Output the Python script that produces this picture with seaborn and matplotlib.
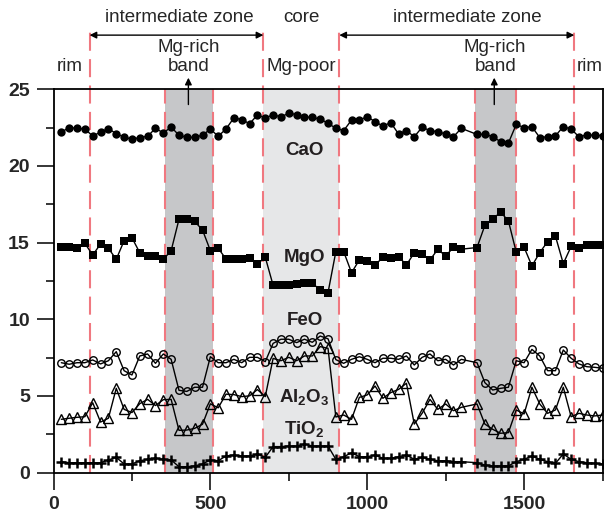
import matplotlib
matplotlib.use("Agg")
import matplotlib.pyplot as plt
from matplotlib.ticker import MultipleLocator
import seaborn as sns
import pandas as pd

# ---------------- data ----------------
distance = [25, 50, 75, 100, 125, 150, 175, 200, 225, 250, 275, 300, 325, 350,
            375, 400, 425, 450, 475, 500, 525, 550, 575, 600, 625, 650, 675, 700,
            725, 750, 775, 800, 825, 850, 875, 900, 925, 950, 975, 1000, 1025,
            1050, 1075, 1100, 1125, 1150, 1175, 1200, 1225, 1250, 1275, 1300,
            1350, 1375, 1400, 1425, 1450, 1475, 1500, 1525, 1550, 1575, 1600,
            1625, 1650, 1675, 1700, 1725, 1750]

cao = [22.2, 22.5, 22.45, 22.4, 21.95, 22.2, 22.43, 22.1, 21.88, 21.74, 21.85,
       21.93, 22.45, 22.15, 22.53, 22.0, 21.86, 21.86, 22.0, 22.4, 21.93, 22.41,
       23.13, 23.02, 22.75, 23.32, 23.13, 23.33, 23.2, 23.43, 23.35, 23.19,
       23.16, 23.05, 22.78, 22.45, 22.3, 22.99, 22.99, 23.21, 22.88, 22.6,
       22.82, 22.08, 22.3, 21.9, 22.52, 22.3, 22.23, 22.08, 21.9, 22.45,
       22.05, 22.07, 21.9, 21.58, 21.49, 22.7, 22.5, 22.55, 21.85, 21.9, 21.96,
       22.56, 22.4, 21.9, 22.02, 22.0, 21.98]

mgo = [14.73, 14.69, 14.63, 14.95, 14.19, 14.91, 14.63, 13.91, 15.12, 15.32,
       14.34, 14.13, 14.13, 13.91, 14.47, 16.52, 16.53, 16.38, 15.82, 14.48,
       14.63, 13.93, 13.95, 13.95, 13.97, 13.6, 14.05, 12.22, 12.25, 12.22,
       12.32, 12.37, 12.34, 11.93, 11.73, 14.41, 14.41, 13.04, 13.87, 13.82,
       13.54, 14.04, 13.98, 14.08, 13.54, 14.34, 14.26, 13.87, 14.56, 14.13,
       14.69, 14.57, 14.68, 16.12, 16.53, 16.99, 16.42, 14.38, 14.7, 13.48,
       14.35, 15.06, 15.42, 13.63, 14.75, 14.68, 14.82, 14.82, 14.82]

feo = [7.17, 7.07, 7.17, 7.17, 7.35, 7.09, 7.3, 7.89, 6.65, 6.37, 7.61, 7.74,
       7.13, 7.74, 7.39, 5.37, 5.3, 5.57, 5.57, 7.56, 7.17, 7.17, 7.39, 7.17,
       7.52, 7.52, 7.24, 8.43, 8.7, 8.7, 8.48, 8.7, 8.5, 8.91, 8.73, 7.37,
       7.13, 7.39, 7.56, 7.39, 7.17, 7.46, 7.46, 7.39, 7.61, 7.02, 7.52, 7.74,
       7.3, 7.39, 7.02, 7.39, 7.17, 5.87, 5.39, 5.5, 5.57, 7.3, 7.17, 8.04,
       7.61, 6.65, 6.65, 8.0, 7.46, 7.09, 6.91, 6.87, 6.81]

al2o3 = [3.48, 3.55, 3.61, 3.65, 4.56, 3.3, 3.55, 5.5, 4.13, 3.92, 4.5, 4.78,
         4.38, 4.76, 4.78, 2.76, 2.78, 2.89, 3.16, 4.49, 4.23, 5.12, 5.09, 4.96,
         5.01, 5.42, 4.96, 7.45, 7.3, 7.52, 7.3, 7.61, 7.61, 8.22, 8.11, 3.63,
         3.76, 3.48, 4.91, 5.07, 5.65, 4.85, 5.22, 5.43, 5.83, 3.17, 3.87, 4.78,
         4.13, 4.48, 4.04, 4.26, 4.48, 3.17, 2.83, 2.57, 2.61, 4.09, 3.83, 5.57,
         4.48, 3.87, 4.09, 5.57, 3.65, 3.87, 3.76, 3.7, 3.76]

tio2 = [0.72, 0.65, 0.65, 0.65, 0.65, 0.65, 0.83, 1.0, 0.57, 0.57, 0.78, 0.87,
        0.94, 0.87, 0.83, 0.39, 0.39, 0.44, 0.57, 0.83, 0.78, 1.09, 1.15, 1.09,
        1.09, 1.22, 1.0, 1.7, 1.7, 1.74, 1.74, 1.87, 1.74, 1.74, 1.74, 0.87,
        1.04, 1.3, 1.04, 1.04, 1.15, 0.94, 0.94, 1.04, 1.15, 0.87, 1.0, 0.87,
        0.78, 0.78, 0.72, 0.72, 0.65, 0.5, 0.44, 0.44, 0.44, 0.72, 0.87, 1.09,
        0.87, 0.72, 0.61, 1.22, 0.87, 0.72, 0.65, 0.61, 0.57]

oxide_names = ["CaO", "MgO", "FeO", "Al$_2$O$_3$", "TiO$_2$"]
label_y = [20.72, 13.75, 9.63, 4.63, 2.55]

boundaries = [115, 356, 510, 669, 911, 1343, 1474, 1660]
tall_boundaries = [115, 669, 911, 1660]
mg_rich_bands = [(356, 510), (1343, 1474)]
core_band = (669, 911)

x_ticks = [0, 500, 1000, 1500]
y_ticks = [0, 5, 10, 15, 20, 25]

# ---------------- style ----------------
sns.set_style("ticks")
plt.rcParams["font.family"] = ["Liberation Sans", "DejaVu Sans"]
plt.rcParams["mathtext.default"] = "regular"
plt.rcParams["lines.scale_dashes"] = False

fig = plt.figure(figsize=(6.05, 5.23), dpi=100)
ax = fig.add_axes([53.5 / 605, (523 - 472.7) / 523, 549 / 605, 383.5 / 523])

ax.set_xlim(0, 1750)
ax.set_ylim(0, 25)

dash_col = "#f07880"
ax.axvspan(*core_band, color="#e6e7e8", lw=0, zorder=0)
for a, b in mg_rich_bands:
    ax.axvspan(a, b, color="#c6c7c9", lw=0, zorder=0)
for b in boundaries:
    top = 1.152 if b in tall_boundaries else 1.0
    ax.axvline(b, ymin=0, ymax=top, color=dash_col, lw=1.5,
               dashes=(13, 6), clip_on=False, zorder=1)

series = {"CaO": cao, "MgO": mgo, "FeO": feo, "Al2O3": al2o3, "TiO2": tio2}
df = pd.DataFrame({"distance": distance, **series})

styles = {
    "CaO": dict(marker="o", markersize=6, markerfacecolor="black", markeredgewidth=0),
    "MgO": dict(marker="s", markersize=5.6, markerfacecolor="black", markeredgewidth=0),
    "FeO": dict(marker="o", markersize=5.4, markerfacecolor="none", markeredgewidth=1.0),
    "Al2O3": dict(marker="^", markersize=6.5, markerfacecolor="none", markeredgewidth=1.0),
    "TiO2": dict(marker="+", markersize=7, markeredgewidth=1.8),
}
for name, st in styles.items():
    sns.lineplot(data=df, x="distance", y=name, ax=ax, color="black",
                 linewidth=1.0, markeredgecolor="black", zorder=3, **st)

for name, yy in zip(oxide_names, label_y):
    ax.text(800, yy, name, ha="center", va="baseline", fontsize=13.5,
            fontweight="bold", color="#231f20", zorder=4)

# axes styling
ax.set_xlabel("")
ax.set_ylabel("")
ax.set_xticks(x_ticks)
ax.set_yticks(y_ticks)
ax.xaxis.set_minor_locator(MultipleLocator(250))
ax.yaxis.set_minor_locator(MultipleLocator(2.5))
ax.tick_params(which="major", direction="out", length=12, width=1.3,
               labelsize=14, pad=5)
ax.tick_params(which="minor", direction="out", length=6, width=1.3)
for lab in ax.get_xticklabels() + ax.get_yticklabels():
    lab.set_fontweight("bold")
for sp in ax.spines.values():
    sp.set_linewidth(1.3)
    sp.set_color("black")
    sp.set_visible(True)

# ---------------- annotations above the plot ----------------
tr = ax.get_xaxis_transform()
txt = dict(ha="center", va="center", fontsize=13.5, transform=tr, clip_on=False)
ax.text(400, 1.186, "intermediate zone", **txt)
ax.text(790, 1.186, "core", **txt)
ax.text(1318, 1.186, "intermediate zone", **txt)
ax.text(430, 1.108, "Mg-rich", **txt)
ax.text(430, 1.058, "band", **txt)
ax.text(1408, 1.108, "Mg-rich", **txt)
ax.text(1408, 1.058, "band", **txt)
ax.text(52, 1.058, "rim", **txt)
ax.text(1708, 1.058, "rim", **txt)
ax.text(790, 1.058, "Mg-poor", **txt)

arrow = dict(arrowstyle="<|-|>", lw=1.0, color="black", mutation_scale=10,
             shrinkA=0, shrinkB=0)
ax.annotate("", xy=(115, 1.141), xytext=(669, 1.141), xycoords=tr,
            textcoords=tr, arrowprops=arrow, annotation_clip=False)
ax.annotate("", xy=(911, 1.141), xytext=(1660, 1.141), xycoords=tr,
            textcoords=tr, arrowprops=arrow, annotation_clip=False)
up = dict(arrowstyle="-|>", lw=1.0, color="black", mutation_scale=10,
          shrinkA=0, shrinkB=0)
for xc in (430, 1405):
    ax.annotate("", xy=(xc, 1.03), xytext=(xc, 0.96), xycoords=tr,
                textcoords=tr, arrowprops=up, annotation_clip=False)

fig.savefig("out.png", dpi=100)
